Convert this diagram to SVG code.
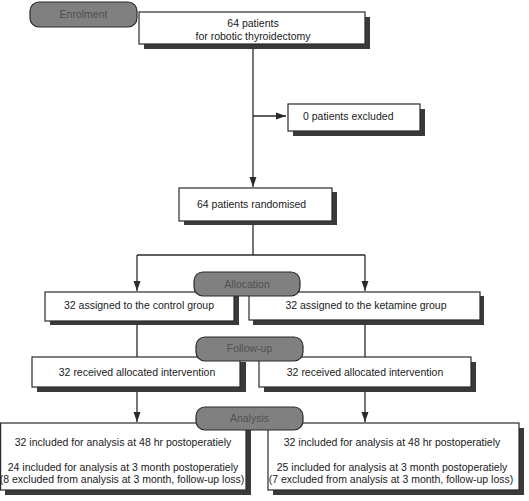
<svg xmlns="http://www.w3.org/2000/svg" width="529" height="501" viewBox="0 0 529 501">
<defs>
<marker id="ah" viewBox="0 0 10 10" refX="10" refY="5" markerWidth="10" markerHeight="10" markerUnits="userSpaceOnUse" orient="auto">
<path d="M0,1.5 L10,5 L0,8.5 Z" fill="#2a2a2a"/>
</marker>
</defs>
<style>
.box{fill:#fff;stroke:#2a2a2a;stroke-width:1.2}
.sh{fill:#3a3a3a}
.pill{fill:#808080;stroke:#2a2a2a;stroke-width:1.2}
.t{font-family:"Liberation Sans",Arial,sans-serif;font-size:10.5px;fill:#1a1a1a}
.pt{font-family:"Liberation Sans",Arial,sans-serif;font-size:10.5px;fill:#505050;text-anchor:middle}
.c{text-anchor:middle}
.ln{fill:none;stroke:#2a2a2a;stroke-width:1.3}
</style>
<rect width="529" height="501" fill="#fff"/>
<g id="connectors">
<path class="ln" d="M253,44 V187" marker-end="url(#ah)"/>
<path class="ln" d="M253,116 H286" marker-end="url(#ah)"/>
<path class="ln" d="M253,221 V255 M137,255 H365"/>
<path class="ln" d="M137,255 V291" marker-end="url(#ah)"/>
<path class="ln" d="M365,255 V291" marker-end="url(#ah)"/>
<path class="ln" d="M137,321 V357 M365,320 V357"/>
<path class="ln" d="M137,387 V422" marker-end="url(#ah)"/>
<path class="ln" d="M365,387 V422" marker-end="url(#ah)"/>
</g>
<g id="enrolment">
<rect class="pill" x="30" y="2" width="107" height="25" rx="9"/>
<text class="pt" x="83.5" y="18">Enrolment</text>
</g>
<g id="patients">
<rect class="sh" x="144" y="17" width="226" height="32"/>
<rect class="box" x="139" y="12" width="226" height="32"/>
<text class="t c" x="253" y="27">64 patients</text>
<text class="t c" x="253" y="40">for robotic thyroidectomy</text>
</g>
<g id="excluded">
<rect class="sh" x="293" y="109" width="132" height="27"/>
<rect class="box" x="288" y="104" width="132" height="27"/>
<text class="t" x="303" y="120">0 patients excluded</text>
</g>
<g id="randomised">
<rect class="sh" x="184" y="192" width="153" height="33"/>
<rect class="box" x="179" y="188" width="153" height="33"/>
<text class="t" x="197" y="208">64 patients randomised</text>
</g>
<g id="control">
<rect class="sh" x="50" y="296" width="189" height="29"/>
<rect class="box" x="45" y="292" width="189" height="29"/>
<text class="t c" x="139" y="309">32 assigned to the control group</text>
</g>
<g id="ketamine">
<rect class="sh" x="253" y="296" width="231" height="29"/>
<rect class="box" x="249" y="292" width="231" height="28"/>
<text class="t c" x="366" y="309">32 assigned to the ketamine group</text>
</g>
<g id="allocation">
<rect class="pill" x="194" y="272" width="106" height="24" rx="9"/>
<text class="pt" x="247" y="288">Allocation</text>
</g>
<g id="received-left">
<rect class="sh" x="37" y="362" width="209" height="30"/>
<rect class="box" x="32" y="357" width="208" height="30"/>
<text class="t c" x="137" y="376">32 received allocated intervention</text>
</g>
<g id="received-right">
<rect class="sh" x="264" y="362" width="212" height="30"/>
<rect class="box" x="259" y="357" width="212" height="30"/>
<text class="t c" x="365" y="376">32 received allocated intervention</text>
</g>
<g id="followup">
<rect class="pill" x="196" y="337" width="107" height="24" rx="9"/>
<text class="pt" x="249.5" y="352">Follow-up</text>
</g>
<g id="analysis-left">
<rect class="sh" x="5" y="428" width="246" height="67"/>
<rect class="box" x="0.6" y="423" width="245.4" height="67"/>
<text class="t c" x="123" y="446">32 included for analysis at 48 hr postoperatiely</text>
<text class="t c" x="123" y="471">24 included for analysis at 3 month postoperatiely</text>
<text class="t c" x="122" y="483">(8 excluded from analysis at 3 month, follow-up loss)</text>
</g>
<g id="analysis-right">
<rect class="sh" x="273" y="428" width="251" height="67"/>
<rect class="box" x="268" y="423" width="251" height="67"/>
<text class="t c" x="392" y="446">32 included for analysis at 48 hr postoperatiely</text>
<text class="t c" x="392" y="471">25 included for analysis at 3 month postoperatiely</text>
<text class="t c" x="391" y="483">(7 excluded from analysis at 3 month, follow-up loss)</text>
</g>
<g id="analysis">
<rect class="pill" x="196" y="407" width="107" height="23" rx="9"/>
<text class="pt" x="249.5" y="422">Analysis</text>
</g>
</svg>
